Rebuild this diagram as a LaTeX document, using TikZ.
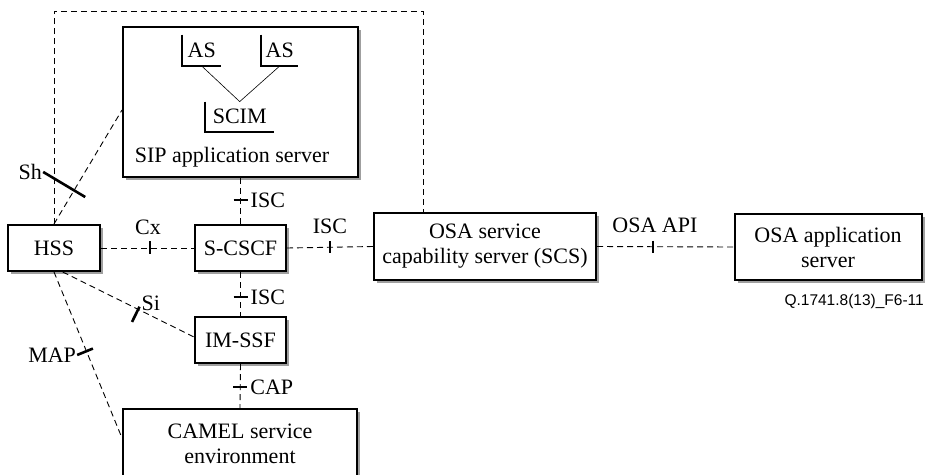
\documentclass[tikz,border=0pt]{standalone}
\usepackage{fontspec}
\setmainfont{Liberation Serif}
\newfontfamily\figfont{Liberation Sans}
\usetikzlibrary{calc,shadows}

\begin{document}
\begin{tikzpicture}[x=1pt,y=-1pt,inner sep=0pt,
      font=\fontsize{22}{25}\selectfont,
      box/.style={draw, line width=2pt, fill=white, align=center,
        drop shadow={shadow xshift=3pt, shadow yshift=-3pt, fill=gray!75, opacity=1}},
      bracket/.style={anchor=south west, minimum height=31pt},
      link/.style={dash pattern=on 6pt off 4pt, line width=0.9pt},
      tick/.style={line width=1.8pt},
      bigtick/.style={line width=2.6pt}]
            \useasboundingbox (0,0) rectangle (925,474);
            \clip (0,0) rectangle (925,474);

            \node[box, minimum width=235pt, minimum height=150pt] (sip) at (240.5,102) {};
            \node[anchor=base] (siptext) at (232,162) {SIP application server};
            \node[bracket, minimum width=39pt] (as1) at (182,66) {AS};
            \node[bracket, minimum width=37pt] (as2) at (261,66) {AS};
            \node[bracket, minimum width=69pt, minimum height=30pt] (scim) at (205,132) {SCIM};
            \foreach \b in {as1,as2,scim}
                \draw[line width=1.8pt] (\b.north west) |- (\b.south east);
            \draw[line width=0.6pt] (as1.south) -- (scim.north) -- (as2.south);

            \node[box, minimum width=92pt, minimum height=46pt] (hss) at (54,248) {HSS};
            \node[box, minimum width=91pt, minimum height=46pt] (scscf) at (240.5,248) {S-CSCF};
            \node[box, minimum width=91pt, minimum height=46pt] (imssf) at (240.5,340) {IM-SSF};
            \node[box, minimum width=222pt, minimum height=67pt] (scs) at (485,246.5) {OSA service\\capability server (SCS)};
            \node[box, minimum width=187pt, minimum height=66pt] (osaas) at (828,247) {OSA application\\server};
            \node[box, anchor=north, minimum width=234pt, minimum height=70pt] (camel) at (240,408) {CAMEL service\\environment};
            \node[anchor=east, font=\figfont\fontsize{15.5}{18}\selectfont] (fignum) at (924,301) {Q.1741.8(13)\_F6-11};

            \coordinate (topright) at (423,11);
            \draw[link] (hss.north) |- (topright) -- (topright |- scs.north);

            \draw[link] (hss.east) -- coordinate[pos=.526] (cx) (scscf.west);
            \draw[tick] ($(cx)+(0,-7)$) -- ($(cx)+(0,6)$);
            \node[anchor=base] (cxlab) at ($(cx)+(-2,-14)$) {Cx};

            \draw[link] (scscf.east) -- coordinate[pos=.5] (isc) (scs.west);
            \draw[tick] ($(isc)+(0,-6)$) -- ($(isc)+(0,6)$);
            \node[anchor=base] (isclab) at ($(isc)+(0,-14)$) {ISC};

            \draw[link] (scs.east) -- coordinate[pos=.41] (api) (osaas.west);
            \draw[tick] ($(api)+(0,-6)$) -- ($(api)+(0,6)$);
            \node[anchor=base] (apilab) at ($(api)+(2,-14)$) {OSA API};

            \draw[link] (sip.south) -- coordinate[pos=.48] (iscup) (scscf.north);
            \draw[tick] ($(iscup)+(-7,0)$) -- ($(iscup)+(7,0)$);
            \node[anchor=west] (iscuplab) at ($(iscup)+(10,0)$) {ISC};

            \draw[link] (scscf.south) -- coordinate[pos=.565] (iscdown) (imssf.north);
            \draw[tick] ($(iscdown)+(-7,0)$) -- ($(iscdown)+(7,0)$);
            \node[anchor=west] (iscdownlab) at ($(iscdown)+(10,0)$) {ISC};

            \draw[link] (imssf.south) -- coordinate[pos=.53] (cap) (camel.north);
            \draw[tick] ($(cap)+(-7,0)$) -- ($(cap)+(7,0)$);
            \node[anchor=west] (caplab) at ($(cap)+(10,0)$) {CAP};

            \coordinate (shend) at ([yshift=-8pt]sip.west);
            \draw[link] (hss.north) -- coordinate[pos=.295] (sh) (shend);
            \draw[bigtick] ($(sh)!36pt!90:(shend)$) coordinate (shtop) -- ($(sh)!13pt!-90:(shend)$);
            \node[anchor=east] (shlab) at ([xshift=-1pt]shtop) {Sh};

            \coordinate (siend) at ([yshift=3pt]imssf.west);
            \draw[link] (hss.-70) -- coordinate[pos=.575] (si) (siend);
            \draw[bigtick] ($(si)!3pt!90:(siend)$) coordinate (sitop) -- ($(si)!14pt!-90:(siend)$);
            \node[anchor=west] (silab) at ([shift={(2pt,3pt)}]sitop) {Si};

            \coordinate (mapend) at ([yshift=-30pt]camel.north west);
            \draw[link] (hss.south) -- coordinate[pos=.477] (map) (mapend);
            \draw[bigtick] ($(map)!10pt!-90:(mapend)$) coordinate (mapleft) -- ($(map)!7pt!90:(mapend)$);
            \node[anchor=east] (maplab) at ([xshift=-1pt]mapleft) {MAP};
      \end{tikzpicture}
\end{document}
